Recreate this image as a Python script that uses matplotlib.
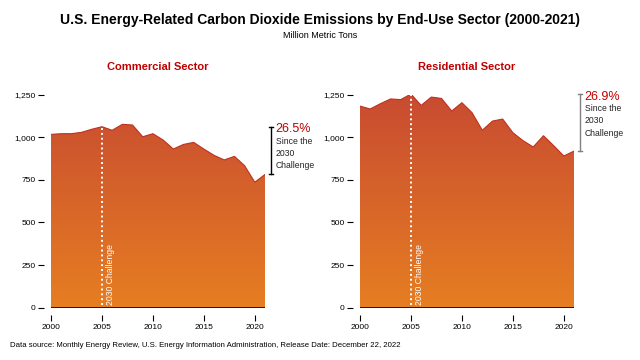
import numpy as np
import matplotlib
matplotlib.use("Agg")
import matplotlib.pyplot as plt
from matplotlib.colors import LinearSegmentedColormap

plt.rcParams['font.family'] = ['Liberation Sans', 'DejaVu Sans']

# Données (millions de tonnes métriques)
years = list(range(2000, 2022))
commercial = [1017, 1021, 1021, 1029, 1047, 1062, 1041, 1076, 1072, 1003, 1021,
              984, 931, 958, 970, 931, 894, 867, 888, 833, 736, 782]
residential = [1183, 1166, 1197, 1225, 1221, 1254, 1187, 1236, 1228, 1154, 1203,
               1144, 1041, 1095, 1107, 1027, 980, 943, 1009, 951, 890, 919]
panels = [("Commercial Sector", commercial, "26.5%", "black"),
          ("Residential Sector", residential, "26.9%", "#808080")]
yticks = [0, 250, 500, 750, 1000, 1250]
xticks = [2000, 2005, 2010, 2015, 2020]

cmap = LinearSegmentedColormap.from_list("grad", ["#E67E22", "#C84B31"])

fig = plt.figure(figsize=(6.4, 3.6), dpi=100)
fig.text(0.5, 0.944, "U.S. Energy-Related Carbon Dioxide Emissions by End-Use Sector (2000-2021)",
         ha='center', va='center', fontsize=10, fontweight='bold')
fig.text(0.5, 0.902, "Million Metric Tons", ha='center', va='center', fontsize=6.5)
fig.text(0.016, 0.04, "Data source: Monthly Energy Review, U.S. Energy Information Administration, "
         "Release Date: December 22, 2022", ha='left', va='center', fontsize=5.6)

lefts = [0.0797, 0.5625]
for (title, vals, pct, bcol), x0 in zip(panels, lefts):
    ax = fig.add_axes([x0, 0.1453, 0.3344, 0.5917])
    poly = ax.fill_between(years, 0, vals, color='none', lw=0)
    grad = np.linspace(0, 1, 256).reshape(-1, 1)
    img = ax.imshow(grad, cmap=cmap, origin='lower', aspect='auto',
                    extent=[2000, 2021, 0, 1250], zorder=1)
    img.set_clip_path(poly.get_paths()[0], transform=ax.transData)
    ax.plot(years, vals, color='#C0301E', lw=0.8, zorder=2)
    ax.axhline(0, color='black', lw=1.2, zorder=3)

    # ligne 2030 Challenge
    i05 = years.index(2005)
    ax.plot([2005, 2005], [15, vals[i05]], color='white', lw=1.4,
            linestyle=(0, (1, 1.5)), zorder=4)
    ax.text(2005.85, 18, "2030 Challenge", rotation=90, color='white',
            fontsize=6.2, ha='center', va='bottom', zorder=4)

    ax.set_xlim(2000, 2021)
    ax.set_ylim(0, 1250)
    ax.set_xticks(xticks)
    ax.set_yticks(yticks)
    ax.set_yticklabels([f"{v:,}" for v in yticks])
    for s in ax.spines.values():
        s.set_visible(False)
    ax.spines['left'].set_position(('outward', 5))
    ax.spines['bottom'].set_position(('outward', 5))
    ax.tick_params(axis='both', labelsize=6, length=4, width=0.8, color='black')
    ax.tick_params(axis='y', pad=2)
    ax.tick_params(axis='x', pad=3)
    ax.set_title(title, color='#C00000', fontsize=8, fontweight='bold', pad=18)

    # crochet de variation
    v0, v1 = vals[i05], vals[-1]
    bx = 2021 + 0.6
    ax.plot([bx, bx], [v1, v0], color=bcol, lw=1, clip_on=False)
    for v in (v0, v1):
        ax.plot([bx - 0.22, bx + 0.22], [v, v], color=bcol, lw=1, clip_on=False)
    ax.text(bx + 0.45, v0 + 20, pct, color='#C00000', fontsize=9,
            ha='left', va='top', clip_on=False)
    ax.text(bx + 0.45, v0 - 60, "Since the\n2030\nChallenge", color='#222222',
            fontsize=6.2, ha='left', va='top', linespacing=1.45, clip_on=False)

plt.savefig("out.png", dpi=100)
